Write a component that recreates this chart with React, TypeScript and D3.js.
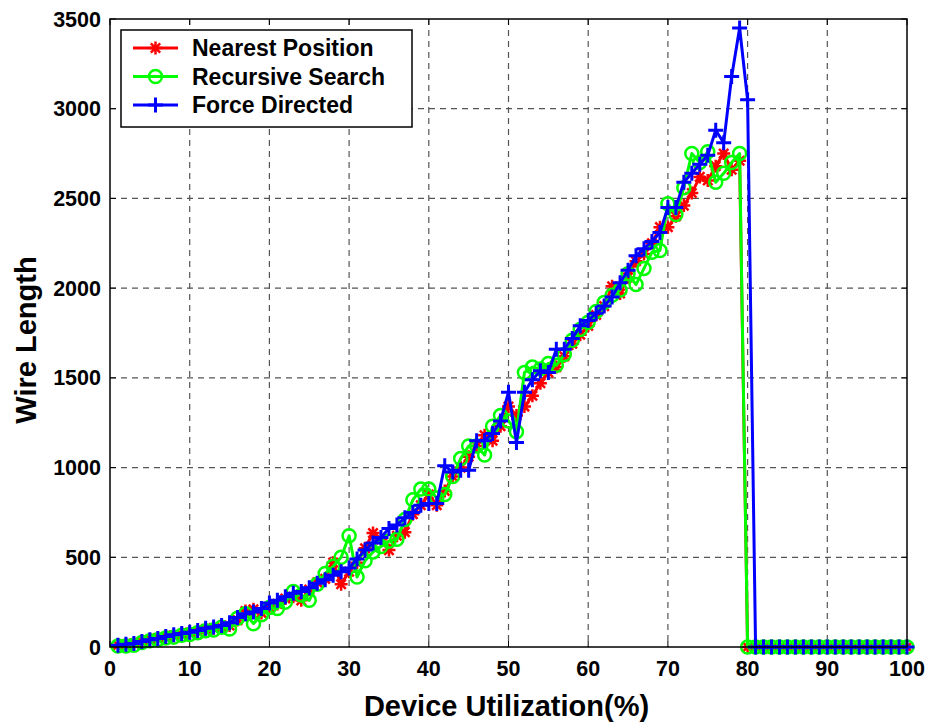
import React, { useEffect, useRef } from 'react';
import * as d3 from 'd3';

// device utilization (%) for each sample
const utilization = [
  1, 2, 3, 4, 5, 6, 7, 8, 9, 10, 11, 12, 13, 14, 15, 16, 17, 18, 19, 20,
  21, 22, 23, 24, 25, 26, 27, 28, 29, 30, 31, 32, 33, 34, 35, 36, 37, 38, 39, 40,
  41, 42, 43, 44, 45, 46, 47, 48, 49, 50, 51, 52, 53, 54, 55, 56, 57, 58, 59, 60,
  61, 62, 63, 64, 65, 66, 67, 68, 69, 70, 71, 72, 73, 74, 75, 76, 77, 78, 79, 80,
  81, 82, 83, 84, 85, 86, 87, 88, 89, 90, 91, 92, 93, 94, 95, 96, 97, 98, 99, 100,
];

const nearestPosition = [
  10, 15, 20, 28, 40, 50, 55, 65, 70, 80, 85, 100, 105, 110, 120, 150, 200, 210, 190, 220,
  240, 270, 280, 260, 320, 360, 380, 470, 350, 420, 470, 550, 635, 600, 540, 620, 640, 740, 790, 850,
  790, 870, 950, 1000, 1060, 1120, 1180, 1150, 1230, 1340, 1290, 1340, 1400, 1470, 1530, 1560, 1620, 1690, 1740, 1790,
  1850, 1900, 2010, 1970, 2060, 2150, 2190, 2250, 2340, 2340, 2400, 2460, 2530, 2620, 2600, 2680, 2750, 2660, 2710, 0,
  0, 0, 0, 0, 0, 0, 0, 0, 0, 0, 0, 0, 0, 0, 0, 0, 0, 0, 0, 0,
];

const recursiveSearch = [
  5, 5, 10, 25, 35, 40, 50, 55, 65, 70, 80, 90, 95, 110, 100, 160, 185, 130, 180, 220,
  215, 250, 310, 290, 260, 350, 410, 450, 500, 620, 390, 480, 530, 560, 590, 600, 710, 820, 880, 880,
  830, 850, 950, 1050, 1120, 1120, 1070, 1230, 1290, 1260, 1200, 1530, 1560, 1550, 1580, 1570, 1630, 1710, 1770, 1810,
  1870, 1920, 1960, 1990, 2080, 2020, 2110, 2200, 2210, 2470, 2410, 2560, 2750, 2700, 2760, 2590, 2640, 2700, 2750, 0,
  0, 0, 0, 0, 0, 0, 0, 0, 0, 0, 0, 0, 0, 0, 0, 0, 0, 0, 0, 0,
];

const forceDirected = [
  10, 15, 20, 30, 40, 48, 58, 68, 75, 82, 92, 105, 112, 120, 135, 165, 185, 195, 215, 245,
  260, 280, 300, 310, 330, 355, 375, 400, 420, 440, 490, 540, 580, 610, 660, 680, 720, 750, 790, 800,
  800, 1010, 975, 985, 985, 1150, 1150, 1190, 1260, 1420, 1140, 1420, 1490, 1540, 1530, 1660, 1660, 1720, 1790, 1820,
  1860, 1900, 1950, 2030, 2100, 2180, 2220, 2260, 2310, 2450, 2450, 2590, 2640, 2690, 2740, 2880, 2810, 3180, 3450, 3050,
  0, 0, 0, 0, 0, 0, 0, 0, 0, 0, 0, 0, 0, 0, 0, 0, 0, 0, 0, 0,
];

const seriesNames = ['Nearest Position', 'Recursive Search', 'Force Directed'];
const seriesColors = ['#ff0000', '#00ff00', '#0000ff'];
const seriesMarkers = ['star', 'circle', 'plus'];

const xTicks = [0, 10, 20, 30, 40, 50, 60, 70, 80, 90, 100];
const yTicks = [0, 500, 1000, 1500, 2000, 2500, 3000, 3500];

const FONT = '"Liberation Sans", Arial, sans-serif';

const drawMarker = (g, type, x, y, color) => {
  if (type === 'circle') {
    g.append('circle')
      .attr('cx', x).attr('cy', y).attr('r', 6.5)
      .attr('fill', 'none').attr('stroke', color).attr('stroke-width', 2.5);
  } else if (type === 'plus') {
    const s = 7.5;
    g.append('path')
      .attr('d', `M${x - s},${y}H${x + s}M${x},${y - s}V${y + s}`)
      .attr('stroke', color).attr('stroke-width', 3).attr('fill', 'none');
  } else {
    const s = 6.5;
    const d = s * 0.72;
    g.append('path')
      .attr('d', `M${x - s},${y}H${x + s}M${x},${y - s}V${y + s}` +
        `M${x - d},${y - d}L${x + d},${y + d}M${x - d},${y + d}L${x + d},${y - d}`)
      .attr('stroke', color).attr('stroke-width', 2.5).attr('fill', 'none');
  }
};

const App = () => {
  const svgRef = useRef(null);
  const width = 932;
  const height = 725;
  const margin = { top: 19, right: 25, bottom: 78, left: 110 };

  useEffect(() => {
    const svg = d3.select(svgRef.current);
    svg.selectAll('*').remove();

    const chartWidth = width - margin.left - margin.right;
    const chartHeight = height - margin.top - margin.bottom;

    const x = d3.scaleLinear().domain([0, 100]).range([0, chartWidth]);
    const y = d3.scaleLinear().domain([0, 3500]).range([chartHeight, 0]);

    svg.append('rect').attr('width', width).attr('height', height).attr('fill', '#fff');

    const g = svg.append('g').attr('transform', `translate(${margin.left}, ${margin.top})`);

    // dashed grid
    xTicks.slice(1, -1).forEach(t => {
      g.append('line')
        .attr('x1', x(t)).attr('x2', x(t)).attr('y1', 0).attr('y2', chartHeight)
        .attr('stroke', '#555').attr('stroke-width', 1.2).attr('stroke-dasharray', '6,5');
    });
    yTicks.slice(1, -1).forEach(t => {
      g.append('line')
        .attr('x1', 0).attr('x2', chartWidth).attr('y1', y(t)).attr('y2', y(t))
        .attr('stroke', '#555').attr('stroke-width', 1.2).attr('stroke-dasharray', '6,5');
    });

    // inward ticks on all four sides
    xTicks.forEach(t => {
      g.append('line').attr('x1', x(t)).attr('x2', x(t)).attr('y1', chartHeight).attr('y2', chartHeight - 6)
        .attr('stroke', '#000').attr('stroke-width', 1);
      g.append('line').attr('x1', x(t)).attr('x2', x(t)).attr('y1', 0).attr('y2', 6)
        .attr('stroke', '#000').attr('stroke-width', 1);
    });
    yTicks.forEach(t => {
      g.append('line').attr('x1', 0).attr('x2', 6).attr('y1', y(t)).attr('y2', y(t))
        .attr('stroke', '#000').attr('stroke-width', 1);
      g.append('line').attr('x1', chartWidth).attr('x2', chartWidth - 6).attr('y1', y(t)).attr('y2', y(t))
        .attr('stroke', '#000').attr('stroke-width', 1);
    });

    // series
    const allSeries = [nearestPosition, recursiveSearch, forceDirected];
    const line = d3.line().x(d => x(d[0])).y(d => y(d[1]));

    allSeries.forEach((values, i) => {
      const pts = utilization.map((u, k) => [u, values[k]]);
      g.append('path')
        .datum(pts)
        .attr('d', line)
        .attr('fill', 'none')
        .attr('stroke', seriesColors[i])
        .attr('stroke-width', 3)
        .attr('stroke-linejoin', 'round');
      const mg = g.append('g');
      pts.forEach(p => drawMarker(mg, seriesMarkers[i], x(p[0]), y(p[1]), seriesColors[i]));
    });

    // plot box
    g.append('rect')
      .attr('width', chartWidth).attr('height', chartHeight)
      .attr('fill', 'none').attr('stroke', '#000').attr('stroke-width', 1.5);

    // tick labels
    xTicks.forEach(t => {
      g.append('text')
        .attr('x', x(t)).attr('y', chartHeight + 29)
        .attr('text-anchor', 'middle')
        .style('font-family', FONT).style('font-weight', 'bold').style('font-size', '21.5px')
        .text(t);
    });
    yTicks.forEach(t => {
      g.append('text')
        .attr('x', -9).attr('y', y(t) + 7.5)
        .attr('text-anchor', 'end')
        .style('font-family', FONT).style('font-weight', 'bold').style('font-size', '21.5px')
        .text(t);
    });

    // axis titles
    svg.append('text')
      .attr('x', margin.left + chartWidth / 2 - 2).attr('y', 716)
      .attr('text-anchor', 'middle')
      .style('font-family', FONT).style('font-weight', 'bold').style('font-size', '29px')
      .text('Device Utilization(%)');
    svg.append('text')
      .attr('transform', `translate(36, ${margin.top + chartHeight / 2 + 7}) rotate(-90)`)
      .attr('text-anchor', 'middle')
      .style('font-family', FONT).style('font-weight', 'bold').style('font-size', '29px')
      .text('Wire Length');

    // legend
    const legend = svg.append('g').attr('transform', 'translate(121, 30)');
    legend.append('rect')
      .attr('width', 291).attr('height', 97)
      .attr('fill', '#fff').attr('stroke', '#000').attr('stroke-width', 1.5);
    seriesNames.forEach((name, i) => {
      const ry = 18 + i * 28.5;
      legend.append('line')
        .attr('x1', 12).attr('x2', 57).attr('y1', ry).attr('y2', ry)
        .attr('stroke', seriesColors[i]).attr('stroke-width', 3);
      drawMarker(legend, seriesMarkers[i], 34.5, ry, seriesColors[i]);
      legend.append('text')
        .attr('x', 71).attr('y', ry + 8)
        .style('font-family', FONT).style('font-weight', 'bold').style('font-size', '23px')
        .text(name);
    });
  }, []);

  return (
    <svg ref={svgRef} width={width} height={height}
      style={{ position: 'absolute', left: 0, top: 0, display: 'block' }} />
  );
};

export default App;
